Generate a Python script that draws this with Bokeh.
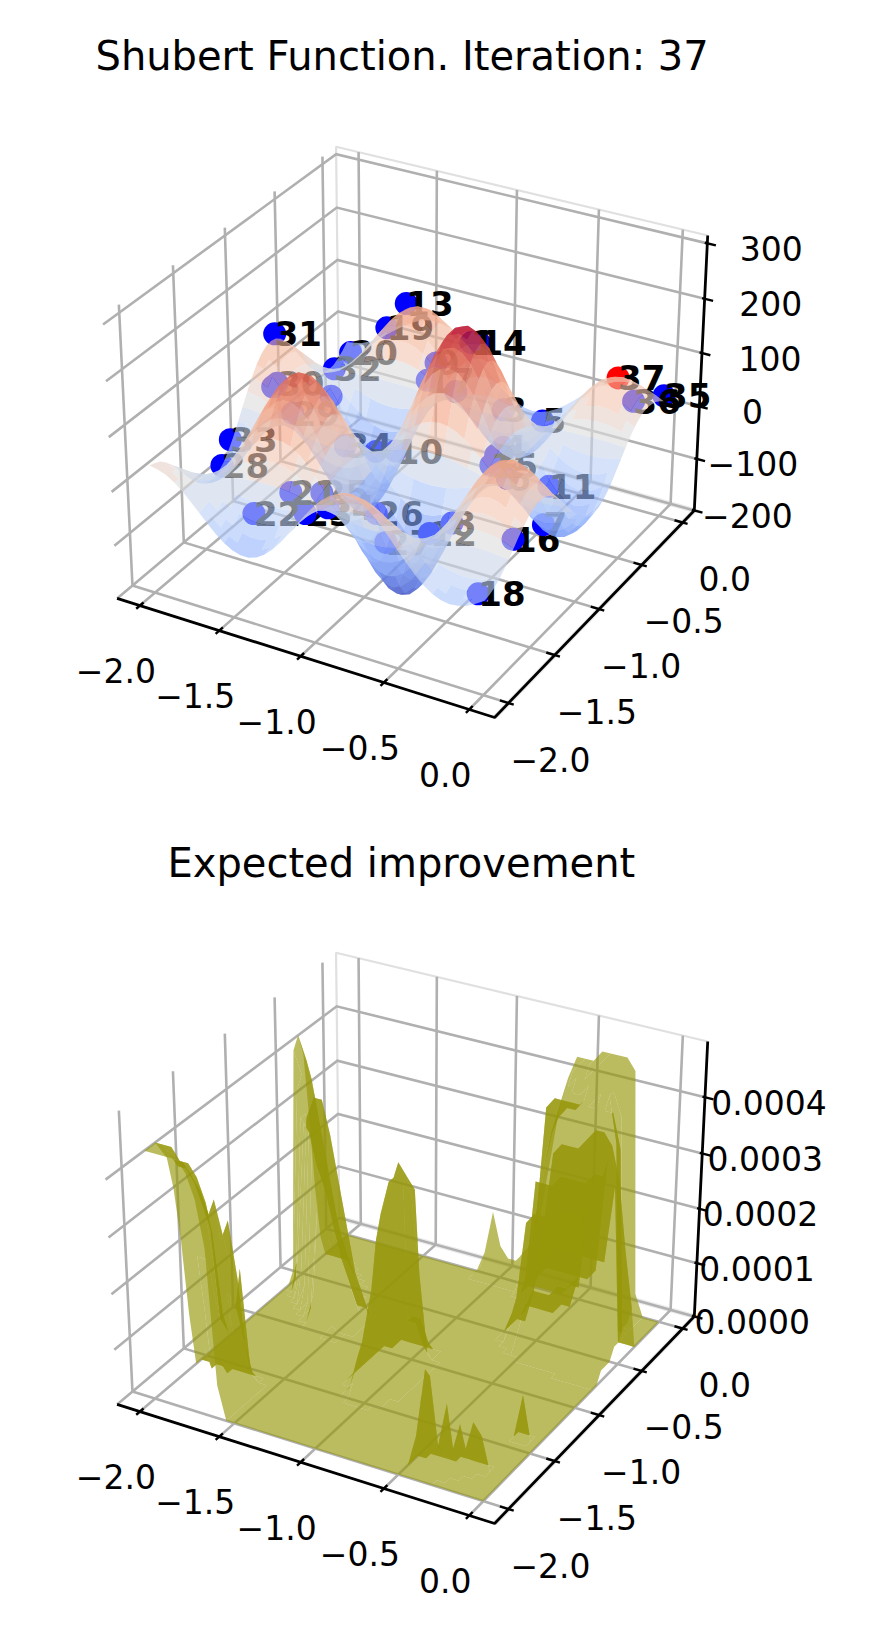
import numpy as np
from bokeh.plotting import figure
from bokeh.layouts import column
from bokeh.embed import file_html
from bokeh.resources import INLINE
from bokeh.core.properties import value

TITLE_1 = "Shubert Function. Iteration: 37"
TITLE_2 = "Expected improvement"
XY_TICKS = [-2.0, -1.5, -1.0, -0.5, 0.0]
XY_TICK_LABELS = ["\u22122.0", "\u22121.5", "\u22121.0", "\u22120.5", "0.0"]
Z1_TICKS = [-200, -100, 0, 100, 200, 300]
Z1_TICK_LABELS = ["\u2212200", "\u2212100", "0", "100", "200", "300"]
Z2_TICKS = [0.0, 0.0001, 0.0002, 0.0003, 0.0004]
Z2_TICK_LABELS = ["0.0000", "0.0001", "0.0002", "0.0003", "0.0004"]
XY_LIM = (-2.146, 0.146)
Z1_LIM = (-200, 314)
Z2_LIM = (0.0, 0.000497)

# 1-D profile of the upper surface along either horizontal axis, x = -2 ... 0, step 0.05
surface_profile = [6.164, 5.7, 4.828, 3.289, 1.303, -1.064, -3.609, -6.174, -8.555, -10.54, -12.002, -12.75, -12.767,
                   -11.93, -10.358, -8.04, -5.178, -1.90, 1.544, 4.95, 8.105, 10.77, 12.818, 14.06, 14.507, 14.06,
                   12.845, 10.90, 8.427, 5.58, 2.578, -0.36, -3.066, -5.32, -7.055, -8.10, -8.516, -8.24, -7.414,
                   -6.1, -4.459]

dot_labels = ["1","2","3","4","5","6","7","8","9","10","11","12","13","14","15","16","17","18","19","20","21","22",
              "23","24","25","26","27","28","29","30","31","32","33","34","35","36","37","","","",""]
labels_behind_dots = ["16", "23", "24", "25", "26", "27", "12", "30"]
dot_x = [-0.73,-0.51,-0.55,-0.88,-0.72,-0.31,-0.28,-0.48,-1.23,-1.33,-0.34,-0.46,-1.50,-0.78,-0.50,-0.02,-1.24,-0.08,
         -1.66,-1.94,-1.29,-1.47,-1.16,-1.01,-1.15,-0.65,-0.96,-2.00,-1.61,-1.87,-2.00,-1.97,-2.00,-1.18,0.00,-0.06,
         -0.25,-1.16,-1.88,-1.11,-1.73]
dot_y = [-0.84,-0.96,-0.81,-0.19,-0.03,-1.20,-0.84,-1.48,-0.33,-0.60,-0.67,-1.75,-0.19,-0.66,-1.03,-1.67,-0.41,-1.92,
         -0.13,-0.06,-1.75,-1.83,-1.82,-1.84,-1.67,-1.96,-1.34,-1.32,-1.21,-0.95,-0.76,-0.19,-1.23,-1.38,0.00,-0.25,
         -0.06,-1.10,-0.98,-0.32,-0.62]
dot_z = [192,23,80,-113,-73,35,-106,-17,41,-95,-66,10,112,162,16,26,19,-36,45,-35,11,-31,-5,22,10,63,-119,-68,46,42,
         97,-50,-33,48,30,52,52,-4,39,-5,-20]

# Lower surface, heights in units of 0.00002 (base-36 digits), on a 41 x 41 grid of step 0.05.
# Each entry: (row of y, first column of x, heights); everything else is zero.
ei_patches = [
    (0,0,"mmmmmljf30"),(1,0,"mmmmlljd20"),(2,0,"mmmllkib10"),(3,0,"llkkjhf810"),(4,0,"kkkjig7630"),
    (5,0,"hhhgfheb30"),(6,0,"ccbbbdfa20"),(7,0,"5969587410"),(8,0,"020103a100"),
    (34,0,"22110"),(33,0,"76421"),(32,0,"ec9631"),(31,0,"kiea631"),(30,0,"mkhc8531"),(29,0,"ljhda7420"),
    (28,0,"1igdb86310"),(27,0,"01gfca7420"),(26,0,"004gfeca7420"),(25,0,"0003hjjgc8420"),(24,0,"00002iifb7310"),
    (23,0,"000001hfc8520"),(22,0,"0000001a7531"),(21,0,"0000000321"),(20,10,"1"),
    (22,17,"013310"),(21,17,"013310"),(20,17,"1agf81"),(19,17,"1eihg1"),(18,17,"1fhig2"),(17,17,"1ehhf2"),
    (16,17,"1cfeb1"),(15,17,"18cb71"),(14,17,"16a951"),(13,17,"145431"),(12,17,"034320"),(11,17,"012210"),
    (10,17,"00110"),
    (1,31,"131"),(2,31,"3931"),(3,31,"68261"),(4,32,"21141"),(5,35,"143"),(12,38,"4"),
    (40,18,"26322347chkmmmnnnnm2"),(39,18,"13112346bgjlmmmnnnm1"),(38,24,"35afikllmmmmk1"),(37,25,"38dhjkkllmlj0"),
    (36,26,"5cgijjkkllh0"),(35,27,"8jkkkkkkkkh0"),(34,27,"2567777777e0"),(33,28,"39ghhhijjif94"),
    (32,27,"1356666667he83"),(31,27,"15eeeffffggd83"),(30,27,"245555566efc72"),(29,27,"14bccccddeeb72"),
    (28,28,"2344445589a61"),(27,29,"146667788951"),(26,31,"1223344531"),(25,34,"0011210"),
]
EI_UNIT = 0.00002
COOLWARM = ["#3b4cc0", "#6282ea", "#8db0fe", "#b8d0f9", "#dddddd", "#f5c4ac", "#f49a7b", "#dd604b", "#b40426"]

# camera of the 3-D view: elevation 30, azimuth -60, box 4:4:3; calibrated on the box corners of the upper plot
BOX = np.array([4, 4, 3.0]) * 1.8294640721620434 / 5.830951894845301
def camera(x, y, z, zlim):
    P = np.stack([(np.asarray(x, float) - XY_LIM[0]) / (XY_LIM[1] - XY_LIM[0]) * BOX[0],
                  (np.asarray(y, float) - XY_LIM[0]) / (XY_LIM[1] - XY_LIM[0]) * BOX[1],
                  (np.asarray(z, float) - zlim[0]) / (zlim[1] - zlim[0]) * BOX[2]], -1)
    R = BOX / 2
    el, az = np.radians(30), np.radians(-60)
    e = R + 10 * np.array([np.cos(el) * np.cos(az), np.cos(el) * np.sin(az), np.sin(el)])
    w = (e - R) / np.linalg.norm(e - R)
    u = np.cross([0, 0, 1.0], w); u /= np.linalg.norm(u)
    v = np.cross(w, u)
    Q = P - e
    ze = Q @ w
    return (Q @ u) / (-ze), (Q @ v) / (-ze), ze

_lo, _hi = XY_LIM, Z1_LIM
_c = np.array([(_lo[0],_lo[0],_hi[0],116,596),(_lo[1],_lo[0],_hi[0],494.3,719.3),(_lo[1],_lo[1],_hi[0],694.3,508.3),
               (_lo[1],_lo[1],_hi[1],706.5,235),(_lo[0],_lo[1],_hi[1],335.9,146.7),(_lo[0],_lo[0],_hi[1],102.4,316.7)])
_a, _b, _ = camera(_c[:,0], _c[:,1], _c[:,2], Z1_LIM)
_M = np.column_stack([_a, _b, np.ones(6)])
AX = np.linalg.lstsq(_M, _c[:,3], rcond=None)[0]
AY = np.linalg.lstsq(_M, _c[:,4], rcond=None)[0]

def project(x, y, z, zlim, dy):
    a, b, d = camera(x, y, z, zlim)
    return AX[0]*a + AX[1]*b + AX[2], AY[0]*a + AY[1]*b + AY[2] + dy, d

def cw(t):
    t = np.clip(t, 0, 1)
    t = np.round(t * 18) / 18
    pos = t * (len(COOLWARM) - 1)
    i = min(int(pos), len(COOLWARM) - 2)
    f = pos - i
    c0 = np.array([int(COOLWARM[i][k:k+2], 16) for k in (1, 3, 5)])
    c1 = np.array([int(COOLWARM[i+1][k:k+2], 16) for k in (1, 3, 5)])
    c = (c0 + (c1 - c0) * f).astype(int)
    return "#%02x%02x%02x" % tuple(c)

def make_fig(top, bottom, frame_top, title, offset):
    p = figure(frame_width=874, frame_height=bottom - frame_top, x_range=(0, 874), y_range=(bottom, frame_top),
               output_backend="svg", toolbar_location=None, tools="", x_axis_location=None, y_axis_location=None,
               min_border_left=0, min_border_right=0, min_border_bottom=0, min_border_top=frame_top - top,
               title=title, background_fill_color="white", border_fill_color="white", outline_line_color=None)
    p.grid.visible = False
    p.title.text_font = "DejaVu Sans"
    p.title.text_font_size = "40px"
    p.title.text_font_style = "normal"
    p.title.text_color = "black"
    p.title.align = "left"
    p.title.offset = offset
    p.title.standoff = 0
    return p

def draw_box(p, zticks, zlabels, zlim, dy, label_dx, label_dy=5):
    lo, hi = XY_LIM
    zl, zh = zlim
    def line(pts):
        a = np.array(pts, float)
        sx, sy, _ = project(a[:,0], a[:,1], a[:,2], zlim, dy)
        return list(sx), list(sy)
    # faint pane edges
    xs, ys = zip(*[line([(lo,hi,zl),(lo,hi,zh),(hi,hi,zh)])])
    p.multi_line(list(xs), list(ys), line_color="#e0e0e0", line_width=2.2)
    xs, ys = zip(*[line([(lo,hi,zl),(hi,hi,zl)]), line([(hi,lo,zl),(hi,hi,zl)])])
    p.multi_line(list(xs), list(ys), line_color="#ebebeb", line_width=5)
    # grid
    gl = []
    for t in XY_TICKS:
        gl.append(line([(t,lo,zl),(t,hi,zl),(t,hi,zh)]))
        gl.append(line([(hi,t,zl),(lo,t,zl),(lo,t,zh)]))
    for t in zticks:
        gl.append(line([(lo,lo,t),(lo,hi,t),(hi,hi,t)]))
    xs, ys = zip(*gl)
    p.multi_line(list(xs), list(ys), line_color="#b0b0b0", line_width=2.6, line_join="miter")
    # axis lines
    xs, ys = line([(lo,lo,zl),(hi,lo,zl),(hi,hi,zl),(hi,hi,zh)])
    p.line(xs, ys, line_color="black", line_width=2.8)
    # tick marks
    tm = []
    for t in XY_TICKS:
        tm.append(line([(t,lo-0.035,zl),(t,lo+0.035,zl)]))
        tm.append(line([(hi-0.05,t,zl),(hi+0.03,t,zl)]))
    for t in zticks:
        tm.append(line([(hi-0.015,hi,t),(hi+0.05,hi,t)]))
    xs, ys = zip(*tm)
    p.multi_line(list(xs), list(ys), line_color="black", line_width=2.4)
    # tick labels
    ticks = np.array(XY_TICKS)
    sx, sy, _ = project(ticks, np.full(5, lo), np.full(5, zl), zlim, dy)
    p.text(list(sx - 24), list(sy + 65), text=XY_TICK_LABELS, text_font=value("DejaVu Sans"), text_font_size="33px",
           text_align="center", text_baseline="middle", text_color="black")
    sx, sy, _ = project(np.full(5, hi), ticks, np.full(5, zl), zlim, dy)
    p.text(list(sx + 42), list(sy + 56), text=XY_TICK_LABELS, text_font=value("DejaVu Sans"), text_font_size="33px",
           text_align="center", text_baseline="middle", text_color="black")
    n = len(zticks)
    sx, sy, _ = project(np.full(n, hi), np.full(n, hi), np.array(zticks, float), zlim, dy)
    p.text(list(sx + np.array(label_dx)), list(sy + label_dy), text=zlabels, text_font=value("DejaVu Sans"),
           text_font_size="33px", text_align="center", text_baseline="middle", text_color="black")

def pixels_of(qx, qy):
    """Pixel centres strictly inside a quad on screen, as integer keys."""
    out = set()
    for tri in ((0, 1, 2), (0, 2, 3)):
        ax, ay = qx[tri[0]], qy[tri[0]]
        bx, by = qx[tri[1]], qy[tri[1]]
        cx, cy = qx[tri[2]], qy[tri[2]]
        den = (by - cy) * (ax - cx) + (cx - bx) * (ay - cy)
        if abs(den) < 1e-9:
            continue
        x0, x1 = int(np.floor(min(ax, bx, cx))), int(np.ceil(max(ax, bx, cx)))
        y0, y1 = int(np.floor(min(ay, by, cy))), int(np.ceil(max(ay, by, cy)))
        PX, PY = np.meshgrid(np.arange(x0, x1 + 1) + 0.5, np.arange(y0, y1 + 1) + 0.5)
        l1 = ((by - cy) * (PX - cx) + (cx - bx) * (PY - cy)) / den
        l2 = ((cy - ay) * (PX - cx) + (ax - cx) * (PY - cy)) / den
        m = (l1 > 0) & (l2 > 0) & (l1 + l2 < 1)
        out.update((PX[m].astype(int) * 4096 + PY[m].astype(int)).tolist())
    return out

def merge_faces(faces):
    """faces: (j, i) -> (depth, xs, ys, key). Joins touching faces of one key into one path as long as they do not
    lie over each other on screen, so that no hairline shows between them."""
    seen, groups = set(), []
    for start in faces:
        if start in seen:
            continue
        seen.add(start)
        stack, members = [start], []
        k0 = faces[start][3]
        mask = pixels_of(faces[start][1], faces[start][2])
        while stack:
            c = stack.pop()
            members.append(faces[c])
            for nb in ((c[0]+1, c[1]), (c[0]-1, c[1]), (c[0], c[1]+1), (c[0], c[1]-1)):
                if nb in faces and nb not in seen and faces[nb][3] == k0:
                    m = pixels_of(faces[nb][1], faces[nb][2])
                    if mask.isdisjoint(m):
                        mask |= m
                        seen.add(nb)
                        stack.append(nb)
        groups.append((float(np.mean([m[0] for m in members])), [[m[1]] for m in members], [[m[2]] for m in members], k0))
    groups.sort(key=lambda g: g[0])
    return groups

def face_dict(SX, SY, D, n, keyf):
    out = {}
    for j in range(n - 1):
        for i in range(n - 1):
            idx = [(j, i), (j, i + 1), (j + 1, i + 1), (j + 1, i)]
            qx = [float(SX[a]) for a in idx]
            qy = [float(SY[a]) for a in idx]
            out[(j, i)] = (float(np.mean([D[a] for a in idx])), qx, qy, keyf(idx))
    return out

# ------------------------------------------------------------------ upper plot
p1 = make_fig(0, 814, 78, TITLE_1, 95)
draw_box(p1, Z1_TICKS, Z1_TICK_LABELS, Z1_LIM, 0, [53, 56, 53, 68, 66, 64])

g = np.array(surface_profile)
axis_grid = np.linspace(-2, 0, len(g))
X, Y = np.meshgrid(axis_grid, axis_grid)
Z = np.outer(g, g)

sx, sy, _ = project(dot_x, dot_y, dot_z, Z1_LIM, 0)
dot_colors = ["red" if s == "37" else "blue" for s in dot_labels]
behind = [s if s in labels_behind_dots else "" for s in dot_labels]
front = [s if s not in labels_behind_dots else "" for s in dot_labels]
p1.text(list(sx), list(sy), text=behind, text_font=value("DejaVu Sans"), text_font_style="bold",
        text_font_size="34px", text_align="left", text_baseline="alphabetic", text_color="black")
p1.scatter(list(sx), list(sy), size=23, fill_color=dot_colors, line_color=None)
p1.text(list(sx), list(sy), text=front, text_font=value("DejaVu Sans"), text_font_style="bold",
        text_font_size="34px", text_align="left", text_baseline="alphabetic", text_color="black")

SX, SY, D = project(X, Y, Z, Z1_LIM, 0)
vmin, vmax = Z.min(), Z.max()
groups = merge_faces(face_dict(SX, SY, D, len(g),
                               lambda idx: cw((np.mean([Z[a] for a in idx]) - vmin) / (vmax - vmin))))
p1.multi_polygons([g_[1] for g_ in groups], [g_[2] for g_ in groups], fill_color=[g_[3] for g_ in groups],
                  fill_alpha=0.62, line_color=None)

# ------------------------------------------------------------------ lower plot
p2 = make_fig(814, 1630, 885, TITLE_2, 167)
draw_box(p2, Z2_TICKS, Z2_TICK_LABELS, Z2_LIM, 806, [58, 60, 61, 63, 64])

H = np.zeros((41, 41))
for row, col0, digits in ei_patches:
    for k, ch in enumerate(digits):
        H[row, col0 + k] = int(ch, 36) * EI_UNIT
X2, Y2 = np.meshgrid(np.linspace(-2, 0, 41), np.linspace(-2, 0, 41))
SX, SY, D = project(X2, Y2, H, Z2_LIM, 806)
groups = merge_faces(face_dict(SX, SY, D, 41, lambda idx: bool(max(H[a] for a in idx) == 0)))
groups.sort(key=lambda g_: (not g_[3], g_[0]))  # floor first
OLIVE = "#96960a"
p2.multi_polygons([g_[1] for g_ in groups], [g_[2] for g_ in groups], fill_color=OLIVE, fill_alpha=0.65,
                  line_color=None)

page = column(p1, p2, spacing=0)
open("out.html", "w").write(file_html(page, INLINE))
